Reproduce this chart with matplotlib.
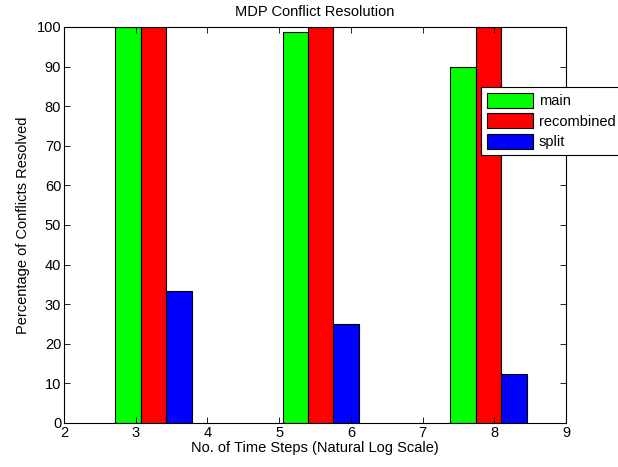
import matplotlib
matplotlib.use('Agg')
import matplotlib.pyplot as plt
import numpy as np

# dados
posicoes = [3.25, 5.58, 7.92]
main = [100, 98.8, 90]
recombined = [100, 100, 100]
split = [33.3, 25, 12.5]
series = ['main', 'recombined', 'split']
cores = ['#00ff00', '#ff0000', '#0000ff']

plt.rcParams['font.family'] = ['Liberation Sans', 'DejaVu Sans']
plt.rcParams['font.size'] = 10.5

fig = plt.figure(figsize=(6.18, 4.67), dpi=100)
ax = fig.add_axes([64 / 618, 44 / 467, 502 / 618, 396 / 467])

largura = 0.355
x = np.array(posicoes)
for i, (valores, nome, cor) in enumerate(zip([main, recombined, split], series, cores)):
    ax.bar(x + (i - 1) * largura, valores, width=largura, color=cor,
           edgecolor='black', linewidth=0.8, label=nome)

ax.set_xlim(2, 9)
ax.set_ylim(0, 100)
ax.set_xticks(range(2, 10))
ax.set_yticks(range(0, 101, 10))
ax.tick_params(direction='in', top=True, right=True, length=4, width=0.6, pad=2)
for s in ax.spines.values():
    s.set_linewidth(0.8)

ax.set_title('MDP Conflict Resolution', fontsize=10.5, pad=8)
ax.set_xlabel('No. of Time Steps (Natural Log Scale)', labelpad=1)
ax.set_ylabel('Percentage of Conflicts Resolved', labelpad=5)

leg = fig.legend(loc='upper left', bbox_to_anchor=(481 / 618, 1 - 87 / 467),
                 fancybox=False, framealpha=1, edgecolor='black',
                 handlelength=3.15, handleheight=1.2, handletextpad=0.4,
                 labelspacing=0.35, borderpad=0.4, borderaxespad=0)
leg.get_frame().set_linewidth(0.8)

fig.savefig('out.png', dpi=100)
